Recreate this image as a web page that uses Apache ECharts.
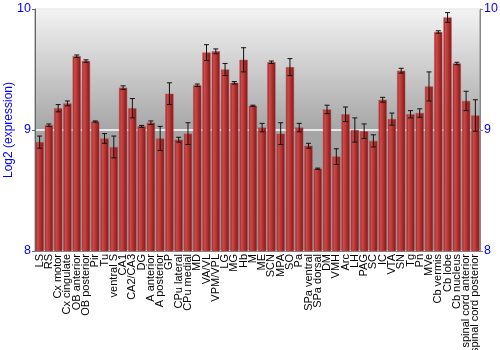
<!DOCTYPE html>
<html><head><meta charset="utf-8">
<script src="https://cdn.jsdelivr.net/npm/echarts@6/dist/echarts.min.js"></script>
<style>html,body{margin:0;padding:0;background:#fff}#c{width:500px;height:350px}</style>
</head><body><div id="c"></div>
<script>
var categories = ["LS","RS","Cx motor","Cx cingulate","OB anterior","OB posterior","Pir","Tu","ventral S","CA1","CA2/CA3","DG","A anterior","A posterior","GP","CPu lateral","CPu medial","MD","VA/VL","VPM/VPL","LG","MG","Hb","M","ME","SCN","MPA","SO","Pa","SPa ventral","SPa dorsal","DM","VMH","Arc","LH","PAG","SC","IC","VTA","SN","Tg","Pn","MVe","Cb vermis","Cb lobe","Cb nucleus","spinal cord anterior","spinal cord posterior"];
var values = [8.90,9.04,9.18,9.22,9.61,9.57,9.07,8.93,8.86,9.35,9.18,9.03,9.06,8.93,9.30,8.92,8.97,9.37,9.64,9.65,9.50,9.39,9.58,9.20,9.02,9.56,8.97,9.52,9.02,8.87,8.68,9.17,8.78,9.13,9.00,8.99,8.91,9.25,9.09,9.49,9.13,9.14,9.36,9.81,9.93,9.55,9.24,9.12];
var errors = [0.05,0.01,0.03,0.02,0.01,0.01,0.005,0.04,0.09,0.015,0.08,0.008,0.015,0.10,0.09,0.02,0.09,0.01,0.065,0.02,0.05,0.01,0.10,0.005,0.035,0.01,0.09,0.07,0.035,0.02,0.005,0.035,0.065,0.06,0.10,0.06,0.05,0.02,0.05,0.02,0.03,0.035,0.12,0.01,0.04,0.01,0.08,0.13];
var yTicks = [8,9,10];

var errData = values.map(function(v,i){return [i, v-errors[i], v+errors[i]];});
var chart = echarts.init(document.getElementById('c'), null, {renderer:'canvas'});
var axisLabelStyle = {color:'#0000ff', fontSize:12.5, fontFamily:'Liberation Sans, Arial, sans-serif'};
chart.setOption({
  animation:false,
  grid:{left:35,right:20,top:9,bottom:99,containLabel:false,outerBoundsMode:'none',show:true,borderColor:'#888',borderWidth:1,
    backgroundColor:new echarts.graphic.LinearGradient(0,0,0,1,[
      {offset:0,color:'#f3f3f3'},{offset:0.5,color:'#a6a6a6'},{offset:1,color:'#9a9a9a'}])},
  xAxis:{type:'category',data:categories,
    axisLine:{show:true,lineStyle:{color:'#888'}},axisTick:{show:false},
    axisLabel:{rotate:90,interval:0,color:'#000',fontSize:11,margin:3,fontFamily:'Liberation Sans, Arial, sans-serif'}},
  yAxis:[
    {type:'value',min:yTicks[0],max:yTicks[2],interval:1,position:'left',
     name:'Log2 (expression)',nameLocation:'middle',nameGap:20,nameMoveOverlap:false,
     nameTextStyle:{color:'#0000ff',fontSize:12,fontFamily:'Liberation Sans, Arial, sans-serif'},
     axisLine:{show:true,lineStyle:{color:'#666'}},axisTick:{show:true,length:3,lineStyle:{color:'#666'}},
     axisLabel:Object.assign({margin:4},axisLabelStyle),
     splitLine:{show:true,lineStyle:{color:'#ffffff',width:1.5}}},
    {type:'value',min:yTicks[0],max:yTicks[2],interval:1,position:'right',
     axisLine:{show:true,lineStyle:{color:'#888'}},axisTick:{show:true,length:3,lineStyle:{color:'#888'}},
     axisLabel:Object.assign({margin:4},axisLabelStyle),
     splitLine:{show:false}}
  ],
  series:[
    {type:'bar',data:values,barCategoryGap:'12%',
     itemStyle:{color:new echarts.graphic.LinearGradient(0,0,1,0,[
       {offset:0,color:'#8f2020'},{offset:0.25,color:'#cc4a4a'},{offset:0.6,color:'#b03030'},{offset:1,color:'#7a1515'}]),
       borderColor:'#b85050',borderWidth:0.5}},
    {type:'custom',data:errData,z:5,
     renderItem:function(params,api){
       var x=api.value(0), lo=api.coord([x,api.value(1)]), hi=api.coord([x,api.value(2)]);
       var cx=lo[0], w=2.5;
       return {type:'group',children:[
         {type:'line',shape:{x1:cx,y1:lo[1],x2:cx,y2:hi[1]},style:{stroke:'#111',lineWidth:1}},
         {type:'line',shape:{x1:cx-w,y1:lo[1],x2:cx+w,y2:lo[1]},style:{stroke:'#111',lineWidth:1}},
         {type:'line',shape:{x1:cx-w,y1:hi[1],x2:cx+w,y2:hi[1]},style:{stroke:'#111',lineWidth:1}}
       ]};
     }}
  ]
});
</script></body></html>
